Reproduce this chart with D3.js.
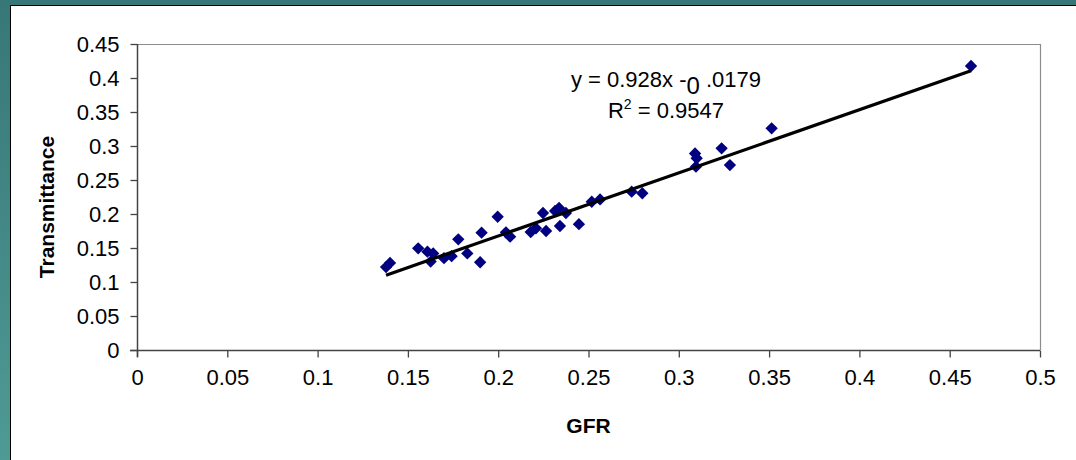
<!DOCTYPE html>
<html>
<head>
<meta charset="utf-8">
<script src="https://cdn.jsdelivr.net/npm/d3@7"></script>
<style>
  html, body { margin: 0; padding: 0; background: #fff; }
  svg { display: block; }
  text { font-family: "Liberation Sans", Arial, sans-serif; }
</style>
</head>
<body>
<svg id="chart" width="1076" height="460"></svg>
<script>
// GFR vs transmittance measurements
const gfr = [
  0.1379, 0.1401, 0.1557, 0.1608, 0.1640, 0.1626, 0.1700, 0.1742, 0.1779, 0.1829,
  0.1900, 0.1908, 0.1997, 0.2043, 0.2066, 0.2180, 0.2209, 0.2248, 0.2265, 0.2315,
  0.2337, 0.2342, 0.2375, 0.2447, 0.2518, 0.2564, 0.2739, 0.2798, 0.3090, 0.3099,
  0.3095, 0.3237, 0.3283, 0.3514, 0.4618
];
const transmittance = [
  0.122, 0.128, 0.1495, 0.1446, 0.142, 0.130, 0.135, 0.138, 0.1627, 0.142,
  0.129, 0.1725, 0.196, 0.173, 0.1667, 0.1735, 0.179, 0.2015, 0.175, 0.2044,
  0.2088, 0.1824, 0.2015, 0.185, 0.218, 0.2215, 0.2328, 0.2305, 0.289, 0.282,
  0.2696, 0.2966, 0.272, 0.326, 0.4176
];

// Linear trendline reported for the series
const slope = 0.928;
const intercept = -0.0179;
const rSquared = "0.9547";

const xTickValues = [0, 0.05, 0.1, 0.15, 0.2, 0.25, 0.3, 0.35, 0.4, 0.45, 0.5];
const xTickLabels = ["0", "0.05", "0.1", "0.15", "0.2", "0.25", "0.3", "0.35", "0.4", "0.45", "0.5"];
const yTickValues = [0, 0.05, 0.1, 0.15, 0.2, 0.25, 0.3, 0.35, 0.4, 0.45];
const yTickLabels = ["0", "0.05", "0.1", "0.15", "0.2", "0.25", "0.3", "0.35", "0.4", "0.45"];

const svg = d3.select("#chart");
const W = 1076, H = 460;

// Slide frame: teal border with white panel
const grad = svg.append("defs").append("linearGradient")
  .attr("id", "teal").attr("x1", 0).attr("y1", 0).attr("x2", 0).attr("y2", 1);
grad.append("stop").attr("offset", 0).attr("stop-color", "#377777");
grad.append("stop").attr("offset", 1).attr("stop-color", "#4f9a95");
svg.append("rect").attr("width", W).attr("height", H).attr("fill", "url(#teal)");
svg.append("rect").attr("x", 11).attr("y", 6).attr("width", W - 11).attr("height", H - 6)
  .attr("fill", "#fff");
svg.append("path").attr("d", `M10.5,${H} V5.5 H${W}`)
  .attr("fill", "none").attr("stroke", "#000").attr("stroke-width", 1);

const plot = { left: 137, right: 1040, top: 44, bottom: 350 };
const x = d3.scaleLinear().domain([0, 0.5]).range([plot.left, plot.right]);
const y = d3.scaleLinear().domain([0, 0.45]).range([plot.bottom, plot.top]);

// Plot area outline (top and right)
svg.append("path")
  .attr("d", `M${plot.left},${plot.top + 0.5} H${plot.right + 0.5} V${plot.bottom}`)
  .attr("fill", "none").attr("stroke", "#8c8c8c").attr("stroke-width", 1.2);

const fontSize = 22;

// X axis
const xAxis = svg.append("g")
  .attr("transform", `translate(0,${plot.bottom + 0.5})`)
  .call(d3.axisBottom(x).tickValues(xTickValues)
    .tickFormat((d, i) => xTickLabels[i]).tickSizeInner(7).tickSizeOuter(0).tickPadding(12));
xAxis.select(".domain").attr("stroke", "#444").attr("stroke-width", 1.5)
  .attr("d", `M${plot.left - 7},0 H${plot.right}`);
xAxis.selectAll(".tick line").attr("stroke", "#444").attr("stroke-width", 1.3);
xAxis.selectAll(".tick text").attr("font-size", fontSize).attr("fill", "#000")
  .attr("font-family", "Liberation Sans, Arial, sans-serif");

// Y axis
const yAxis = svg.append("g")
  .attr("transform", `translate(${plot.left + 0.5},0)`)
  .call(d3.axisLeft(y).tickValues(yTickValues)
    .tickFormat((d, i) => yTickLabels[i]).tickSizeInner(7).tickSizeOuter(0).tickPadding(11));
yAxis.select(".domain").attr("stroke", "#444").attr("stroke-width", 1.5)
  .attr("d", `M0,${plot.top} V${plot.bottom + 7}`);
yAxis.selectAll(".tick line").attr("stroke", "#444").attr("stroke-width", 1.3);
yAxis.selectAll(".tick text").attr("font-size", fontSize).attr("fill", "#000")
  .attr("font-family", "Liberation Sans, Arial, sans-serif");

// Axis titles
svg.append("text")
  .attr("x", (plot.left + plot.right) / 2).attr("y", 433)
  .attr("text-anchor", "middle").attr("font-size", 21).attr("font-weight", "bold")
  .text("GFR");
svg.append("text")
  .attr("transform", `translate(54,${(plot.top + plot.bottom) / 2 + 10}) rotate(-90)`)
  .attr("text-anchor", "middle").attr("font-size", 21).attr("font-weight", "bold")
  .text("Transmittance");

// Data markers (diamonds)
const pts = gfr.map((g, i) => ({ gx: g, ty: transmittance[i] }));
svg.append("g").selectAll("path")
  .data(pts).join("path")
  .attr("d", d3.symbol().type(d3.symbolSquare).size(76))
  .attr("transform", d => `translate(${x(d.gx)},${y(d.ty)}) rotate(45)`)
  .attr("fill", "#000080");

// Trendline across the observed GFR range
const xExtent = d3.extent(gfr);
const trend = xExtent.map(v => [v, slope * v + intercept]);
svg.append("path")
  .datum(trend)
  .attr("d", d3.line().x(d => x(d[0])).y(d => y(d[1])))
  .attr("fill", "none").attr("stroke", "#000").attr("stroke-width", 3.2);

// Trendline equation and R²
const eq = svg.append("text")
  .attr("x", 666).attr("y", 87).attr("text-anchor", "middle")
  .attr("font-size", fontSize);
eq.append("tspan").text("y = 0.928x -");
eq.append("tspan").attr("dy", 7).attr("font-size", fontSize + 2).text("0");
eq.append("tspan").attr("dy", -7).text(" .0179");

const r2 = svg.append("text")
  .attr("x", 666).attr("y", 118).attr("text-anchor", "middle")
  .attr("font-size", fontSize);
r2.append("tspan").text("R");
r2.append("tspan").attr("dy", -9).attr("font-size", 14).text("2");
r2.append("tspan").attr("dy", 9).text(" = " + rSquared);
</script>
</body>
</html>
